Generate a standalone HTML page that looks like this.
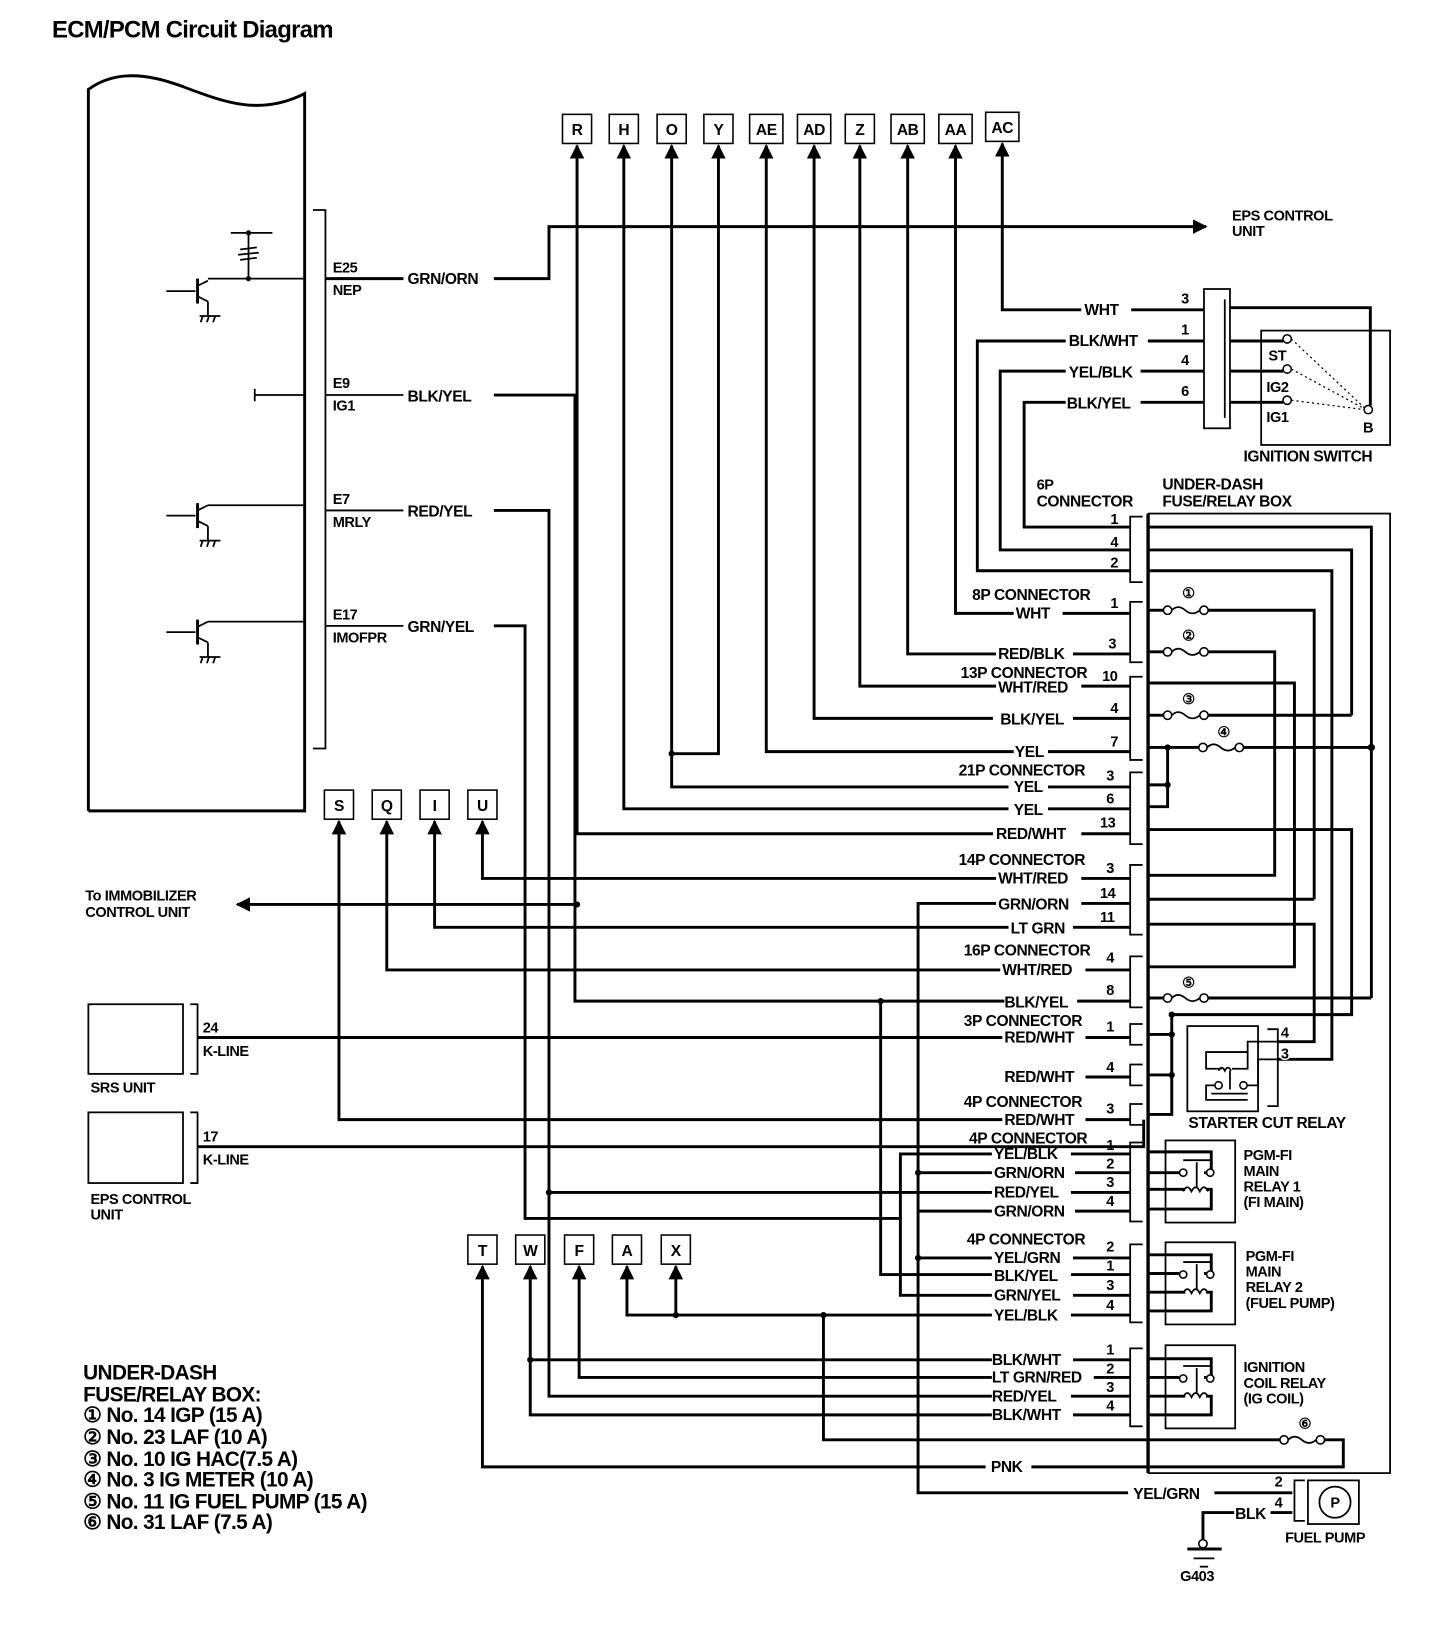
<!DOCTYPE html>
<html><head><meta charset="utf-8"><style>
html,body{margin:0;padding:0;background:#fff;}
svg{display:block}
text{font-family:"Liberation Sans",sans-serif;font-weight:bold;font-size:15px;fill:#000;letter-spacing:-0.4px;paint-order:stroke;stroke:#fff;stroke-width:3px;stroke-linejoin:round}
.w{stroke:#000;stroke-width:2.8;fill:none}
.t{stroke:#000;stroke-width:1.7;fill:none}
.b{stroke:#000;stroke-width:1.5;fill:#fff}
.n{font-size:14px}
.L{font-size:20px;letter-spacing:-0.6px}
</style></head><body>
<svg width="1440" height="1628" viewBox="0 0 1385 1566" preserveAspectRatio="none" xmlns="http://www.w3.org/2000/svg">
<defs>
<marker id="ar" viewBox="0 0 10 10" refX="9" refY="5" markerWidth="5" markerHeight="5" orient="auto-start-reverse"><path d="M0,0 L10,5 L0,10 z" fill="#000"/></marker>
<g id="tr">
<line class="t" x1="0" y1="0" x2="28" y2="0"/>
<line class="w" x1="30" y1="-12" x2="30" y2="12"/>
<line class="t" x1="30" y1="-5" x2="40" y2="-10"/>
<line class="t" x1="30" y1="5" x2="40" y2="10"/>
<line class="t" x1="40" y1="10" x2="40" y2="24"/>
<line class="t" x1="32" y1="24" x2="52" y2="24"/>
<line class="t" x1="35" y1="24" x2="33" y2="30"/><line class="t" x1="41" y1="24" x2="39" y2="30"/><line class="t" x1="47" y1="24" x2="45" y2="30"/>
</g>
<g id="fu">
<circle cx="0" cy="0" r="4" class="b" stroke-width="1.8"/>
<path d="M4,0 Q10,-6 17,0 T31,0" class="t"/>
<circle cx="35" cy="0" r="4" class="b" stroke-width="1.8"/>
</g>
<g id="rl">
<line class="t" x1="14" y1="-22" x2="40" y2="-22"/>
<circle cx="14" cy="-10" r="3.5" class="b"/><circle cx="40" cy="-10" r="3.5" class="b"/>
<line class="t" x1="27" y1="-20" x2="27" y2="4"/>
<path d="M14,8 q4,-8 8,0 q4,-8 8,0 q4,-8 8,0" class="t"/>
</g>
</defs>

<text x="50" y="36" style="font-size:23px;letter-spacing:-0.7px">ECM/PCM Circuit Diagram</text>

<path class="w" d="M85,780 V86 C110,68 140,70 175,83 C215,98 250,112 293,90 V780 H85" stroke-width="2"/>
<path class="t" d="M301,202 H313 V720 H301"/>
<use href="#tr" x="160" y="280"/>
<line class="t" x1="200" y1="268" x2="293" y2="268"/>
<line class="t" x1="222" y1="224" x2="262" y2="224"/>
<line class="t" x1="239" y1="224" x2="239" y2="268"/>
<path class="t" d="M231,240 l16,-2 M229,245 l20,-2 M231,250 l16,-2"/>
<circle cx="239" cy="268" r="2.5"/><circle cx="239" cy="224" r="2.5"/>
<line class="t" x1="245" y1="380" x2="293" y2="380"/><line class="t" x1="245" y1="374" x2="245" y2="386"/>
<use href="#tr" x="160" y="496"/><line class="t" x1="200" y1="486" x2="293" y2="486"/>
<use href="#tr" x="160" y="608"/><line class="t" x1="200" y1="598" x2="293" y2="598"/>

<text x="320" y="262" class="n">E25</text><text x="320" y="284" class="n">NEP</text>
<line class="w" x1="313" y1="268" x2="388" y2="268"/><text x="392" y="273">GRN/ORN</text>
<text x="320" y="373" class="n">E9</text><text x="320" y="395" class="n">IG1</text>
<line class="t" x1="313" y1="380" x2="388" y2="380"/><text x="392" y="386">BLK/YEL</text>
<text x="320" y="485" class="n">E7</text><text x="320" y="507" class="n">MRLY</text>
<line class="t" x1="313" y1="491" x2="388" y2="491"/><text x="392" y="497">RED/YEL</text>
<text x="320" y="596" class="n">E17</text><text x="320" y="618" class="n">IMOFPR</text>
<line class="t" x1="313" y1="602" x2="388" y2="602"/><text x="392" y="608">GRN/YEL</text>

<path class="w" d="M475,268 H528 V218 H1160" marker-end="url(#ar)"/>
<text x="1185" y="212" class="n">EPS CONTROL</text><text x="1185" y="227" class="n">UNIT</text>

<g>
<rect class="b" x="541" y="110" width="28" height="28"/><text x="555" y="130" text-anchor="middle">R</text>
<rect class="b" x="586" y="110" width="28" height="28"/><text x="600" y="130" text-anchor="middle">H</text>
<rect class="b" x="632" y="110" width="28" height="28"/><text x="646" y="130" text-anchor="middle">O</text>
<rect class="b" x="677" y="110" width="28" height="28"/><text x="691" y="130" text-anchor="middle">Y</text>
<rect class="b" x="721" y="110" width="32" height="28"/><text x="737" y="130" text-anchor="middle">AE</text>
<rect class="b" x="767" y="110" width="32" height="28"/><text x="783" y="130" text-anchor="middle">AD</text>
<rect class="b" x="813" y="110" width="28" height="28"/><text x="827" y="130" text-anchor="middle">Z</text>
<rect class="b" x="857" y="110" width="32" height="28"/><text x="873" y="130" text-anchor="middle">AB</text>
<rect class="b" x="903" y="110" width="32" height="28"/><text x="919" y="130" text-anchor="middle">AA</text>
<rect class="b" x="948" y="108" width="32" height="28"/><text x="964" y="128" text-anchor="middle">AC</text>
</g>
<path class="w" d="M555,140 V802 H955" marker-start="url(#ar)"/>
<path class="w" d="M600,140 V778 H970" marker-start="url(#ar)"/>
<path class="w" d="M646,140 V757 H970" marker-start="url(#ar)"/>
<path class="w" d="M691,140 V725 H646" marker-start="url(#ar)"/><circle cx="646" cy="725" r="3"/>
<path class="w" d="M737,140 V723 H975" marker-start="url(#ar)"/>
<path class="w" d="M783,140 V691 H955" marker-start="url(#ar)"/>
<path class="w" d="M827,140 V660 H958" marker-start="url(#ar)"/>
<path class="w" d="M873,140 V629 H958" marker-start="url(#ar)"/>
<path class="w" d="M919,140 V590 H975" marker-start="url(#ar)"/>
<path class="w" d="M964,138 V298 H1040" marker-start="url(#ar)"/>

<text x="1043" y="303">WHT</text><line class="w" x1="1088" y1="298" x2="1158" y2="298"/><text x="1136" y="292" class="n">3</text>
<path class="w" d="M1025,328 H940 V549 H1087"/><text x="1028" y="333">BLK/WHT</text><line class="w" x1="1104" y1="328" x2="1158" y2="328"/><text x="1136" y="322" class="n">1</text>
<path class="w" d="M1025,357 H962 V529 H1087"/><text x="1028" y="363">YEL/BLK</text><line class="w" x1="1097" y1="357" x2="1158" y2="357"/><text x="1136" y="351" class="n">4</text>
<path class="w" d="M1025,387 H985 V507 H1087"/><text x="1026" y="393">BLK/YEL</text><line class="w" x1="1097" y1="387" x2="1158" y2="387"/><text x="1136" y="381" class="n">6</text>
<rect class="t" x="1158" y="278" width="25" height="134" fill="#fff"/>
<line class="t" x1="1178" y1="288" x2="1178" y2="402"/>
<path class="w" d="M1183,296 H1318 V390"/>
<rect class="t" x="1213" y="318" width="124" height="110"/>
<line class="w" x1="1183" y1="328" x2="1234" y2="328"/>
<line class="w" x1="1183" y1="357" x2="1234" y2="357"/>
<line class="w" x1="1183" y1="387" x2="1234" y2="387"/>
<circle cx="1238" cy="326" r="4" class="b"/><circle cx="1238" cy="355" r="4" class="b"/><circle cx="1238" cy="385" r="4" class="b"/><circle cx="1316" cy="394" r="4" class="b"/>
<path d="M1242,326 L1312,392 M1242,355 L1312,393 M1242,385 L1312,394" stroke="#000" stroke-width="1.2" stroke-dasharray="2,3" fill="none"/>
<text x="1220" y="347" class="n">ST</text><text x="1218" y="377" class="n">IG2</text><text x="1218" y="406" class="n">IG1</text><text x="1311" y="416" class="n">B</text>
<text x="1196" y="444">IGNITION SWITCH</text>

<text x="997" y="471" class="n">6P</text><text x="997" y="487">CONNECTOR</text>
<text x="1118" y="471">UNDER-DASH</text><text x="1118" y="487">FUSE/RELAY BOX</text>

<rect class="t" x="1105" y="494" width="232" height="923" stroke-width="1.2"/>
<line class="w" x1="1104" y1="494" x2="1104" y2="1417" stroke-width="2.2"/>

<path class="t" d="M1099,497 H1087 V560 H1099"/>
<path class="t" d="M1099,579 H1087 V637 H1099"/>
<path class="t" d="M1099,651 H1087 V731 H1099"/>
<path class="t" d="M1099,743 H1087 V812 H1099"/>
<path class="t" d="M1099,832 H1087 V899 H1099"/>
<path class="t" d="M1099,920 H1087 V969 H1099"/>
<path class="t" d="M1099,985 H1087 V1005 H1099"/>
<path class="t" d="M1099,1024 H1087 V1044 H1099"/>
<path class="t" d="M1099,1062 H1087 V1082 H1099"/>
<path class="t" d="M1099,1099 H1087 V1175 H1099"/>
<path class="t" d="M1099,1197 H1087 V1272 H1099"/>
<path class="t" d="M1099,1297 H1087 V1372 H1099"/>

<text x="1068" y="504" class="n">1</text><text x="1068" y="526" class="n">4</text><text x="1068" y="546" class="n">2</text>
<path class="w" d="M1104,507 H1319 V960"/>
<path class="w" d="M1104,529 H1300 V688"/>
<path class="w" d="M1104,549 H1281 V1019 H1229"/>

<text x="935" y="577">8P CONNECTOR</text><text x="1068" y="585" class="n">1</text>
<text x="977" y="595">WHT</text><line class="w" x1="1022" y1="590" x2="1087" y2="590"/>
<line class="w" x1="1104" y1="587" x2="1119" y2="587"/><use href="#fu" x="1123" y="587"/><text x="1143" y="575" class="n" text-anchor="middle">①</text>
<path class="w" d="M1162,587 H1264 V865"/>
<text x="960" y="634">RED/BLK</text><line class="w" x1="1032" y1="629" x2="1087" y2="629"/><text x="1066" y="624" class="n">3</text>
<line class="w" x1="1104" y1="627" x2="1119" y2="627"/><use href="#fu" x="1123" y="627"/><text x="1143" y="616" class="n" text-anchor="middle">②</text>
<path class="w" d="M1162,627 H1226 V842 H1104"/>

<text x="924" y="652">13P CONNECTOR</text><text x="1060" y="655" class="n">10</text>
<text x="960" y="666">WHT/RED</text><line class="w" x1="1040" y1="660" x2="1087" y2="660"/>
<path class="w" d="M1104,657 H1245 V930 H1104"/>
<text x="962" y="697">BLK/YEL</text><line class="w" x1="1032" y1="691" x2="1087" y2="691"/><text x="1068" y="686" class="n">4</text>
<line class="w" x1="1104" y1="688" x2="1119" y2="688"/><use href="#fu" x="1123" y="688"/><text x="1143" y="677" class="n" text-anchor="middle">③</text>
<line class="w" x1="1162" y1="688" x2="1300" y2="688"/>
<text x="976" y="728">YEL</text><line class="w" x1="1008" y1="723" x2="1087" y2="723"/><text x="1068" y="718" class="n">7</text>
<path class="w" d="M1104,719 H1153"/><use href="#fu" x="1157" y="719"/><text x="1177" y="709" class="n" text-anchor="middle">④</text>
<line class="w" x1="1196" y1="719" x2="1319" y2="719"/><circle cx="1319" cy="719" r="3.5"/>
<path class="w" d="M1123,719 V776 H1104 M1123,755 H1104"/><circle cx="1123" cy="719" r="3"/><circle cx="1123" cy="755" r="3"/>

<text x="922" y="746">21P CONNECTOR</text><text x="1064" y="751" class="n">3</text>
<text x="975" y="762">YEL</text><line class="w" x1="1008" y1="757" x2="1087" y2="757"/>
<text x="975" y="784">YEL</text><line class="w" x1="1008" y1="778" x2="1087" y2="778"/><text x="1064" y="773" class="n">6</text>
<text x="958" y="807">RED/WHT</text><line class="w" x1="1040" y1="802" x2="1087" y2="802"/><text x="1058" y="796" class="n">13</text>
<path class="w" d="M1104,798 H1300 V976 H1127 V1072 H1104 M1127,995 H1104 M1127,1034 H1104"/>
<circle cx="1127" cy="976" r="3"/><circle cx="1127" cy="995" r="3"/><circle cx="1127" cy="1034" r="3"/>

<text x="922" y="832">14P CONNECTOR</text><text x="1064" y="840" class="n">3</text>
<text x="960" y="850">WHT/RED</text><line class="w" x1="1040" y1="845" x2="1087" y2="845"/>
<text x="960" y="875">GRN/ORN</text><line class="w" x1="1040" y1="869" x2="1087" y2="869"/><text x="1058" y="864" class="n">14</text>
<line class="w" x1="1104" y1="865" x2="1264" y2="865"/>
<text x="972" y="898">LT GRN</text><line class="w" x1="1032" y1="892" x2="1087" y2="892"/><text x="1058" y="887" class="n">11</text>
<path class="w" d="M1104,889 H1264 V1002 H1229"/>

<text x="927" y="919">16P CONNECTOR</text><text x="1064" y="926" class="n">4</text>
<text x="964" y="938">WHT/RED</text><line class="w" x1="1044" y1="933" x2="1087" y2="933"/>
<text x="966" y="969">BLK/YEL</text><line class="w" x1="1036" y1="963" x2="1087" y2="963"/><text x="1064" y="957" class="n">8</text>
<line class="w" x1="1104" y1="960" x2="1119" y2="960"/><use href="#fu" x="1123" y="960"/><text x="1143" y="950" class="n" text-anchor="middle">⑤</text>
<line class="w" x1="1162" y1="960" x2="1319" y2="960"/>

<text x="927" y="987">3P CONNECTOR</text><text x="1064" y="992" class="n">1</text>
<text x="966" y="1003">RED/WHT</text><line class="w" x1="1044" y1="998" x2="1087" y2="998"/>
<text x="966" y="1041">RED/WHT</text><line class="w" x1="1044" y1="1036" x2="1087" y2="1036"/><text x="1064" y="1031" class="n">4</text>
<text x="927" y="1065">4P CONNECTOR</text><text x="1064" y="1071" class="n">3</text>
<text x="966" y="1082">RED/WHT</text><line class="w" x1="1044" y1="1077" x2="1087" y2="1077"/>

<rect class="t" x="1142" y="987" width="68" height="82"/>
<path class="t" d="M1219,990 H1229 V1064 H1219"/>
<path class="t" d="M1229,1002 H1200 V1012 H1160 V1028 H1175 M1200,1012 V1028 H1185"/>
<path class="t" d="M1229,1019 H1210 V1044 H1200 M1176,1044 H1160 V1058 H1200"/>
<circle cx="1172" cy="1044" r="3.5" class="b"/><circle cx="1196" cy="1044" r="3.5" class="b"/>
<path d="M1172,1030 q3,-6 6,0 q3,-6 6,0" class="t"/><line class="t" x1="1183" y1="1030" x2="1183" y2="1048"/>
<line class="t" x1="1165" y1="1052" x2="1200" y2="1052"/>
<text x="1232" y="998" class="n">4</text><text x="1232" y="1018" class="n">3</text>
<text x="1143" y="1085">STARTER CUT RELAY</text>

<text x="932" y="1100">4P CONNECTOR</text><text x="1064" y="1106" class="n">1</text>
<text x="956" y="1115">YEL/BLK</text><line class="w" x1="1030" y1="1110" x2="1087" y2="1110"/>
<text x="956" y="1133">GRN/ORN</text><line class="w" x1="1034" y1="1128" x2="1087" y2="1128"/><text x="1064" y="1124" class="n">2</text>
<text x="956" y="1152">RED/YEL</text><line class="w" x1="1030" y1="1147" x2="1087" y2="1147"/><text x="1064" y="1142" class="n">3</text>
<text x="956" y="1170">GRN/ORN</text><line class="w" x1="1034" y1="1165" x2="1087" y2="1165"/><text x="1064" y="1160" class="n">4</text>
<rect class="t" x="1121" y="1097" width="67" height="79"/>
<path class="w" d="M1104,1108 H1165 V1128 H1158 M1104,1128 H1134 M1104,1144 H1140 M1160,1144 H1165 V1163 H1104" stroke-width="2"/>
<use href="#rl" x="1124" y="1138"/>
<text x="1196" y="1116" class="n">PGM-FI</text><text x="1196" y="1131" class="n">MAIN</text><text x="1196" y="1146" class="n">RELAY 1</text><text x="1196" y="1161" class="n">(FI MAIN)</text>

<text x="930" y="1197">4P CONNECTOR</text><text x="1064" y="1204" class="n">2</text>
<text x="956" y="1215">YEL/GRN</text><line class="w" x1="1032" y1="1210" x2="1087" y2="1210"/>
<text x="956" y="1232">BLK/YEL</text><line class="w" x1="1030" y1="1226" x2="1087" y2="1226"/><text x="1064" y="1222" class="n">1</text>
<text x="956" y="1251">GRN/YEL</text><line class="w" x1="1032" y1="1246" x2="1087" y2="1246"/><text x="1064" y="1241" class="n">3</text>
<text x="956" y="1270">YEL/BLK</text><line class="w" x1="1030" y1="1265" x2="1087" y2="1265"/><text x="1064" y="1260" class="n">4</text>
<rect class="t" x="1121" y="1195" width="67" height="79"/>
<path class="w" d="M1104,1207 H1165 V1225 H1158 M1104,1225 H1134 M1104,1243 H1140 M1160,1243 H1165 V1261 H1104" stroke-width="2"/>
<use href="#rl" x="1124" y="1236"/>
<text x="1198" y="1213" class="n">PGM-FI</text><text x="1198" y="1228" class="n">MAIN</text><text x="1198" y="1243" class="n">RELAY 2</text><text x="1198" y="1258" class="n">(FUEL PUMP)</text>

<text x="1064" y="1303" class="n">1</text>
<text x="954" y="1313">BLK/WHT</text><line class="w" x1="1032" y1="1308" x2="1087" y2="1308"/>
<text x="954" y="1330">LT GRN/RED</text><line class="w" x1="1052" y1="1325" x2="1087" y2="1325"/><text x="1064" y="1321" class="n">2</text>
<text x="954" y="1348">RED/YEL</text><line class="w" x1="1030" y1="1343" x2="1087" y2="1343"/><text x="1064" y="1339" class="n">3</text>
<text x="954" y="1366">BLK/WHT</text><line class="w" x1="1032" y1="1361" x2="1087" y2="1361"/><text x="1064" y="1357" class="n">4</text>
<rect class="t" x="1121" y="1294" width="67" height="80"/>
<path class="w" d="M1104,1307 H1165 V1325 H1158 M1104,1325 H1134 M1104,1343 H1140 M1160,1343 H1165 V1361 H1104" stroke-width="2"/>
<use href="#rl" x="1124" y="1336"/>
<text x="1196" y="1320" class="n">IGNITION</text><text x="1196" y="1335" class="n">COIL RELAY</text><text x="1196" y="1350" class="n">(IG COIL)</text>

<path class="w" d="M792,1265 V1385 H1231"/><circle cx="792" cy="1265" r="3"/>
<use href="#fu" x="1235" y="1385"/><text x="1255" y="1374" class="n" text-anchor="middle">⑥</text>
<path class="w" d="M1274,1385 H1292 V1411 H992"/>
<text x="953" y="1416">PNK</text>
<path class="w" d="M464,1218 V1411 H948" marker-start="url(#ar)"/>

<path class="w" d="M475,380 H553 V963 H966"/><circle cx="555" cy="870" r="3"/>
<path class="w" d="M555,870 H228" marker-end="url(#ar)"/>
<text x="82" y="866" class="n">To IMMOBILIZER</text><text x="82" y="882" class="n">CONTROL UNIT</text>
<path class="w" d="M475,491 H528 V1343 H954"/><circle cx="528" cy="1147" r="3"/><line class="w" x1="528" y1="1147" x2="954" y2="1147"/>
<path class="w" d="M475,602 H505 V1172 H866 V1246 H954"/>
<path class="w" d="M954,1110 H866 V1172"/>
<path class="w" d="M847,963 V1226 H954"/><circle cx="847" cy="963" r="3"/>
<path class="w" d="M958,869 H883 V1436 H1085"/><circle cx="883" cy="1128" r="3"/><circle cx="883" cy="1210" r="3"/>
<path class="w" d="M883,1128 H954 M883,1165 H954 M883,1210 H954"/>

<rect class="b" x="312" y="760" width="28" height="28"/><text x="326" y="780" text-anchor="middle">S</text>
<rect class="b" x="358" y="760" width="28" height="28"/><text x="372" y="780" text-anchor="middle">Q</text>
<rect class="b" x="404" y="760" width="28" height="28"/><text x="418" y="780" text-anchor="middle">I</text>
<rect class="b" x="450" y="760" width="28" height="28"/><text x="464" y="780" text-anchor="middle">U</text>
<path class="w" d="M326,790 V1077 H964" marker-start="url(#ar)"/>
<path class="w" d="M372,790 V933 H962" marker-start="url(#ar)"/>
<path class="w" d="M418,790 V892 H970" marker-start="url(#ar)"/>
<path class="w" d="M464,790 V845 H958" marker-start="url(#ar)"/>

<rect class="t" x="85" y="966" width="91" height="67"/>
<path class="t" d="M183,966 H190 V1033 H183"/>
<text x="195" y="993" class="n">24</text><text x="195" y="1016" class="n">K-LINE</text>
<line class="w" x1="190" y1="998" x2="964" y2="998"/>
<text x="87" y="1051" class="n">SRS UNIT</text>
<rect class="t" x="85" y="1070" width="91" height="68"/>
<path class="t" d="M183,1070 H190 V1138 H183"/>
<text x="195" y="1098" class="n">17</text><text x="195" y="1120" class="n">K-LINE</text>
<path class="w" d="M190,1103 H1100 V1077"/>
<text x="87" y="1158" class="n">EPS CONTROL</text><text x="87" y="1173" class="n">UNIT</text>

<rect class="b" x="450" y="1188" width="28" height="28"/><text x="464" y="1208" text-anchor="middle">T</text>
<rect class="b" x="496" y="1188" width="28" height="28"/><text x="510" y="1208" text-anchor="middle">W</text>
<rect class="b" x="543" y="1188" width="28" height="28"/><text x="557" y="1208" text-anchor="middle">F</text>
<rect class="b" x="589" y="1188" width="28" height="28"/><text x="603" y="1208" text-anchor="middle">A</text>
<rect class="b" x="636" y="1188" width="28" height="28"/><text x="650" y="1208" text-anchor="middle">X</text>
<path class="w" d="M510,1218 V1361 H954" marker-start="url(#ar)"/><circle cx="510" cy="1308" r="3"/><line class="w" x1="510" y1="1308" x2="954" y2="1308"/>
<path class="w" d="M557,1218 V1325 H954" marker-start="url(#ar)"/>
<path class="w" d="M603,1218 V1265 H954" marker-start="url(#ar)"/>
<path class="w" d="M650,1218 V1265" marker-start="url(#ar)"/><circle cx="650" cy="1265" r="3"/>

<text x="1090" y="1442">YEL/GRN</text><line class="w" x1="1168" y1="1436" x2="1243" y2="1436"/><text x="1226" y="1430" class="n">2</text>
<path class="w" d="M1187,1455 H1157 V1482"/><text x="1188" y="1461">BLK</text><line class="w" x1="1222" y1="1455" x2="1243" y2="1455"/><text x="1226" y="1450" class="n">4</text>
<path class="t" d="M1255,1424 H1245 V1463 H1255"/>
<rect class="t" x="1258" y="1424" width="49" height="42"/>
<circle cx="1284" cy="1445" r="15" class="t"/><text x="1284" y="1450" text-anchor="middle" class="n">P</text>
<text x="1236" y="1484" class="n">FUEL PUMP</text>
<circle cx="1157" cy="1485" r="4" class="b" stroke-width="1.8"/>
<line class="w" x1="1142" y1="1490" x2="1175" y2="1490"/>
<line class="t" x1="1148" y1="1499" x2="1168" y2="1499"/><line class="t" x1="1154" y1="1507" x2="1162" y2="1507"/>
<text x="1135" y="1521" class="n">G403</text>

<text x="80" y="1327" class="L">UNDER-DASH</text>
<text x="80" y="1348" class="L">FUSE/RELAY BOX:</text>
<text x="80" y="1368" class="L">① No. 14 IGP (15 A)</text>
<text x="80" y="1389" class="L">② No. 23 LAF (10 A)</text>
<text x="80" y="1410" class="L">③ No. 10 IG HAC(7.5 A)</text>
<text x="80" y="1430" class="L">④ No. 3 IG METER (10 A)</text>
<text x="80" y="1451" class="L">⑤ No. 11 IG FUEL PUMP (15 A)</text>
<text x="80" y="1471" class="L">⑥ No. 31 LAF (7.5 A)</text>
</svg>
</body></html>
